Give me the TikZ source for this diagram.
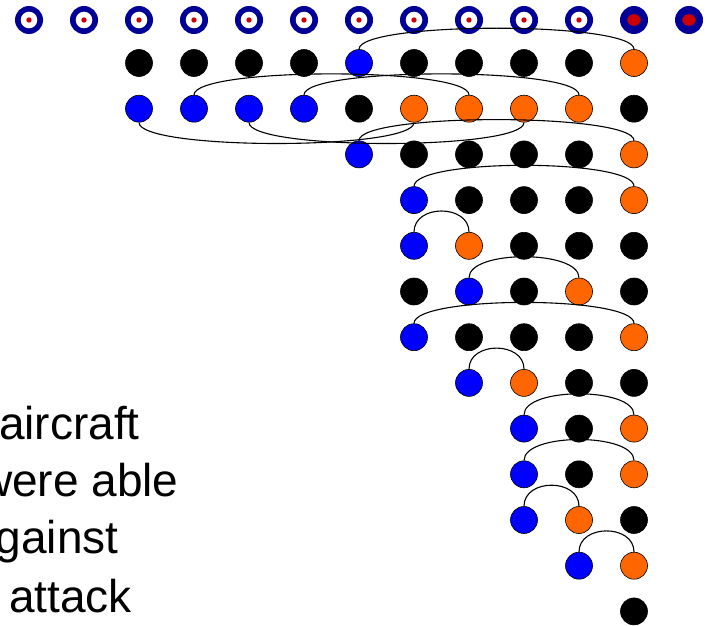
\documentclass[tikz,border=0pt]{standalone}
\usepackage{fontspec}
\setmainfont{Liberation Sans}
\definecolor{rafblue}{RGB}{0,0,150}
\definecolor{rafred}{RGB}{204,0,0}
\definecolor{pegorange}{RGB}{255,102,0}
\tikzstyle{peg} = [circle, draw=black, line width=0.6pt, inner sep=0pt, minimum size=27pt]
\tikzstyle{dotk} = [peg, fill=black]
\tikzstyle{dotb} = [peg, fill=blue]
\tikzstyle{doto} = [peg, fill=pegorange]
\tikzstyle{roundel} = [circle, fill=rafblue, inner sep=0pt, minimum size=28pt,
path picture={\fill[white] (path picture bounding box.center) circle (8.3pt);
\fill[rafred] (path picture bounding box.center) circle (2.7pt);}]
\tikzstyle{roundel old} = [circle, fill=rafblue, inner sep=0pt, minimum size=28pt,
path picture={\fill[rafred] (path picture bounding box.center) ellipse [x radius=6.7pt, y radius=5.8pt];}]
\tikzstyle{over} = [draw, line width=1.1pt, to path={.. controls +(0,-28) and +(0,-28) .. (\tikztotarget)}]
\tikzstyle{under} = [draw, line width=1.1pt, to path={.. controls +(0,28) and +(0,28) .. (\tikztotarget)}]
\tikzstyle{words} = [anchor=base west, inner sep=0pt, font=\fontsize{46}{55}\selectfont]

\begin{document}
\begin{tikzpicture}[x=1pt, y=-1pt]
			\useasboundingbox (0,0) rectangle (707,626);
			\clip (0,0) rectangle (707,626);
			% roundels along the top
			\foreach \c in {0,...,10}
				\node [roundel] (r\c) at ({29+55*\c},20) {};
			\node [roundel old] (r11) at (634,20) {};
			\node [roundel old] (r12) at (689,20) {};
			% rows of pegs: row / first column / colours
			\foreach \r/\s/\pegs in {1/2/{k,k,k,k,b,k,k,k,k,o}, 2/2/{b,b,b,b,k,o,o,o,o,k},
				3/6/{b,k,k,k,k,o}, 4/7/{b,k,k,k,o}, 5/7/{b,o,k,k,k}, 6/7/{k,b,k,o,k},
				7/7/{b,k,k,k,o}, 8/8/{b,o,k,k}, 9/9/{b,k,o}, 10/9/{b,k,o}, 11/9/{b,o,k},
				12/10/{b,o}, 13/11/{k}}
				\foreach \c [count=\col from \s] in \pegs
					\node [dot\c] (p\r-\col) at ({29+55*\col},{63+45.7*(\r-1)}) {};
			\node [words] (t1) at (-1,439) {aircraft};
			\node [words] (t2) at (-21,496) {were able};
			\node [words] (t3) at (-30,553) {against};
			\node [words] (t4) at (9,612) {attack};
			\path [over] (p1-6.north) to (p1-11.north);
			\path [over] (p2-3.north) to (p2-8.north);
			\path [over] (p2-5.north) to (p2-10.north);
			\path [under] (p2-2.south) to (p2-7.south);
			\path [under] (p2-4.south) to (p2-9.south);
			\path [over] (p3-6.north) to (p3-11.north);
			\path [over] (p4-7.north) to (p4-11.north);
			\path [over] (p5-7.north) to (p5-8.north);
			\path [over] (p6-8.north) to (p6-10.north);
			\path [over] (p7-7.north) to (p7-11.north);
			\path [over] (p8-8.north) to (p8-9.north);
			\path [over] (p9-9.north) to (p9-11.north);
			\path [over] (p10-9.north) to (p10-11.north);
			\path [over] (p11-9.north) to (p11-10.north);
			\path [over] (p12-10.north) to (p12-11.north);
		\end{tikzpicture}
\end{document}
